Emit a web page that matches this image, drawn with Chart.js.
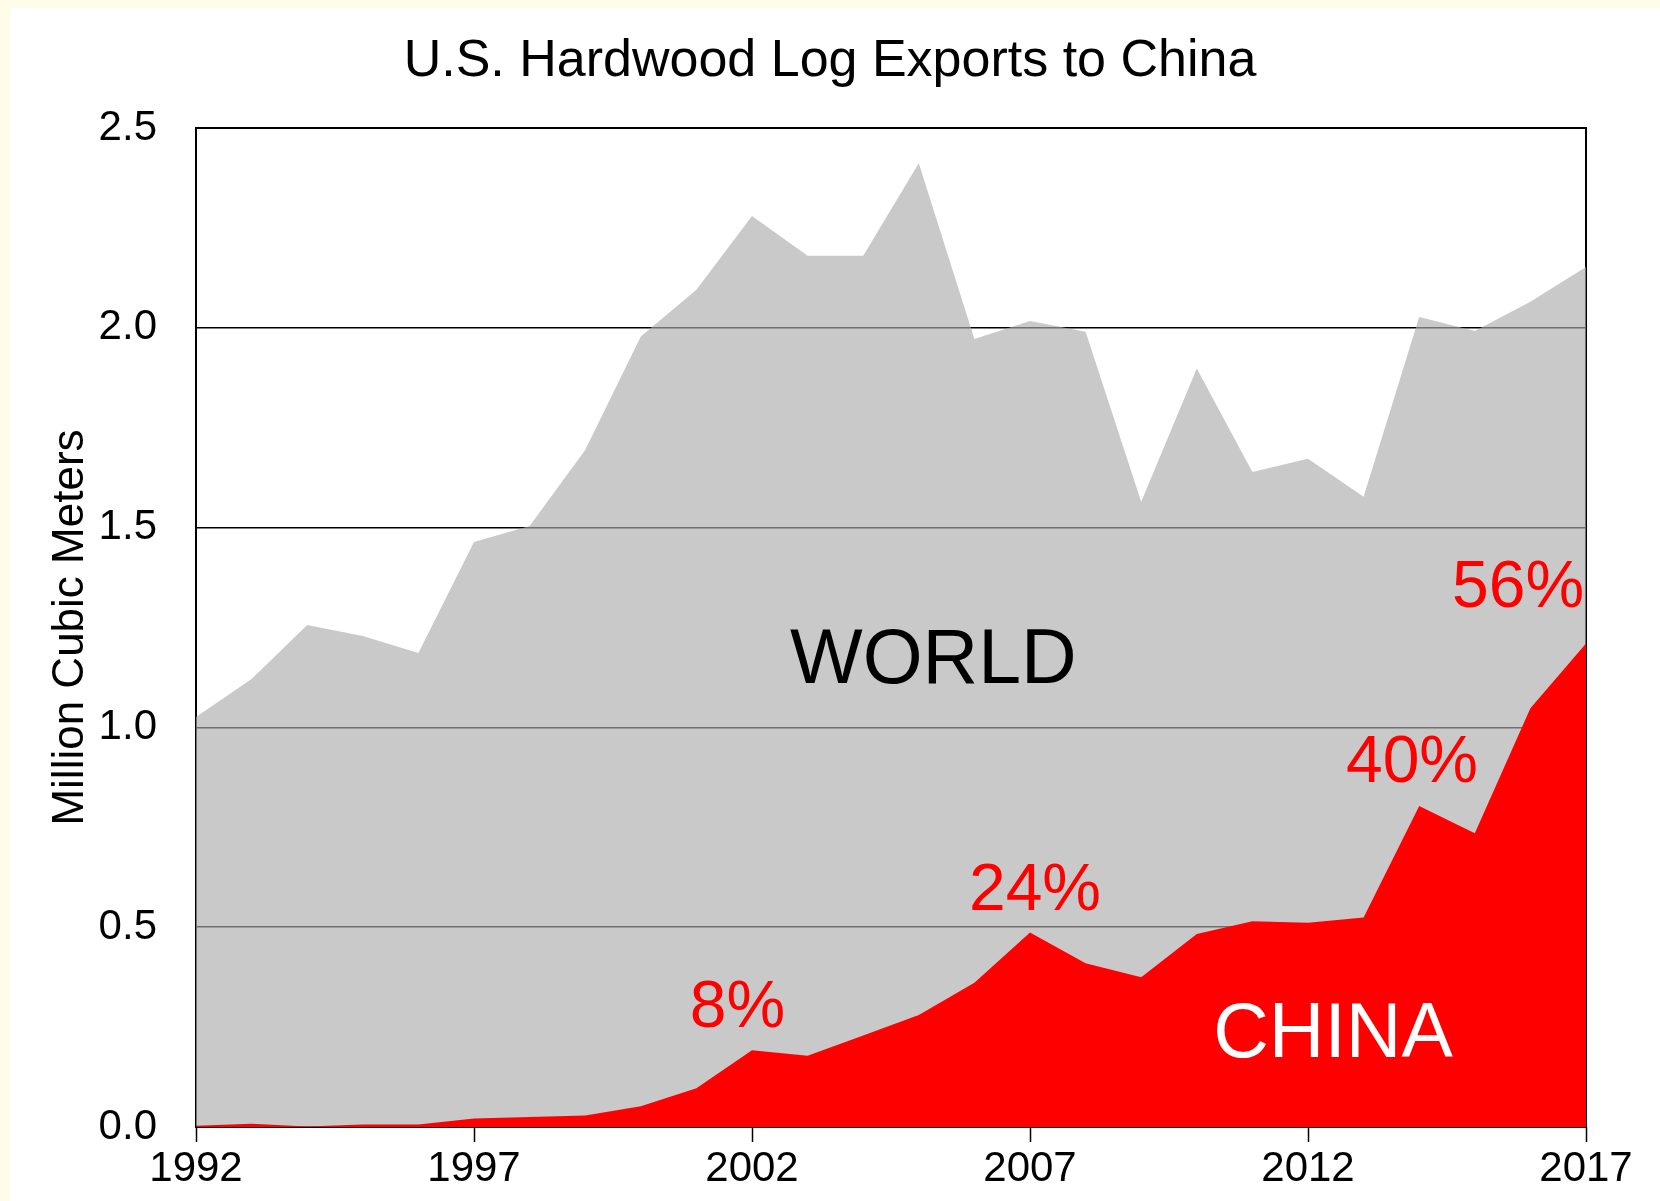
<!DOCTYPE html>
<html>
<head>
<meta charset="utf-8">
<script src="https://cdn.jsdelivr.net/npm/chart.js@4.4.0/dist/chart.umd.min.js"></script>
<style>
  html, body { margin: 0; padding: 0; background: #fff; }
  canvas { display: block; }
</style>
</head>
<body>
<canvas id="chart" width="1660" height="1201" style="width:1660px;height:1201px"></canvas>
<script>
// data ////////////////////////////////////////////////////////////
const years = [1992, 1993, 1994, 1995, 1996, 1997, 1998, 1999, 2000, 2001, 2002, 2003, 2004,
               2005, 2006, 2007, 2008, 2009, 2010, 2011, 2012, 2013, 2014, 2015, 2016, 2017];
const world = [1.026, 1.121, 1.256, 1.229, 1.186, 1.464, 1.504, 1.694, 1.978, 2.095, 2.280, 2.180, 2.180,
               2.412, 1.972, 2.017, 1.990, 1.565, 1.898, 1.639, 1.672, 1.577, 2.027, 1.992, 2.065, 2.152];
const china = [0.003, 0.008, 0.001, 0.006, 0.006, 0.021, 0.025, 0.029, 0.052, 0.097, 0.192, 0.178, 0.229,
               0.280, 0.361, 0.487, 0.410, 0.375, 0.483, 0.515, 0.511, 0.524, 0.803, 0.735, 1.048, 1.210];
const xTicks = [1992, 1997, 2002, 2007, 2012, 2017];
const yTicks = [0, 0.5, 1.0, 1.5, 2.0, 2.5];
const shares = ['8%', '24%', '40%', '56%'];

const FONT = "'Liberation Sans', Arial, sans-serif";

// text placed in data space (year, value at baseline)
const notes = [
    { text: 'WORLD', x: 2005.26, y: 1.112, size: 77, color: '#000' },
    { text: 'CHINA', x: 2012.45, y: 0.174, size: 77, color: '#fff' },
    { text: shares[0], x: 2001.74, y: 0.251, size: 66, color: '#ff0000' },
    { text: shares[1], x: 2007.09, y: 0.543, size: 66, color: '#ff0000' },
    { text: shares[2], x: 2013.87, y: 0.863, size: 66, color: '#ff0000' },
    { text: shares[3], x: 2015.78, y: 1.301, size: 66, color: '#ff0000' }
];

// page background: white with a pale strip on top / left
const background = {
    id: 'background',
    beforeDraw(chart) {
        const ctx = chart.ctx;
        ctx.save();
        ctx.fillStyle = '#fff';
        ctx.fillRect(0, 0, chart.width, chart.height);
        ctx.fillStyle = '#fffde9';
        ctx.fillRect(0, 0, chart.width, 8);
        ctx.fillRect(0, 0, 10, chart.height);
        ctx.restore();
    }
};

// plot frame, under the areas so the grey shades it
const frame = {
    id: 'frame',
    beforeDatasetsDraw(chart) {
        const { ctx, chartArea: a } = chart;
        ctx.save();
        ctx.strokeStyle = '#000';
        ctx.lineWidth = 2;
        ctx.strokeRect(a.left, a.top, a.right - a.left, a.bottom - a.top);
        ctx.restore();
    }
};

const labels = {
    id: 'labels',
    afterDatasetsDraw(chart) {
        const ctx = chart.ctx;
        const sx = chart.scales.x, sy = chart.scales.y;
        ctx.save();
        ctx.textAlign = 'center';
        ctx.textBaseline = 'alphabetic';
        notes.forEach(n => {
            ctx.font = n.size + 'px ' + FONT;
            ctx.fillStyle = n.color;
            ctx.fillText(n.text, sx.getPixelForValue(n.x), sy.getPixelForValue(n.y));
        });
        ctx.restore();
    }
};

new Chart(document.getElementById('chart'), {
    type: 'line',
    data: {
        datasets: [{
            label: 'China',
            data: years.map((y, i) => ({ x: y, y: china[i] })),
            backgroundColor: '#ff0000',
            borderWidth: 0,
            pointRadius: 0,
            tension: 0,
            fill: 'origin',
            order: 0
        }, {
            label: 'World',
            data: years.map((y, i) => ({ x: y, y: world[i] })),
            backgroundColor: 'rgba(172,172,172,0.65)',  // lets grid lines show through darker
            borderWidth: 0,
            pointRadius: 0,
            tension: 0,
            fill: 'origin',
            order: 1
        }]
    },
    options: {
        responsive: false,
        animation: false,
        layout: { padding: 0 },
        plugins: {
            legend: { display: false },
            tooltip: { enabled: false },
            title: {
                display: true,
                text: 'U.S. Hardwood Log Exports to China',
                color: '#000',
                font: { family: FONT, size: 52, weight: 'normal' },
                padding: { top: 30, bottom: 35.6 }
            }
        },
        scales: {
            x: {
                type: 'linear',
                min: 1992,
                max: 2017,
                afterBuildTicks: s => { s.ticks = xTicks.map(v => ({ value: v })); },
                afterFit: s => { s.height = 74; },
                border: { display: false },
                grid: {
                    drawOnChartArea: false,
                    drawTicks: true,
                    tickLength: 15,
                    tickColor: '#000',
                    tickWidth: 1.5
                },
                ticks: {
                    color: '#000',
                    padding: 2,
                    maxRotation: 0,
                    autoSkip: false,
                    font: { family: FONT, size: 42 },
                    callback: v => String(v)
                }
            },
            y: {
                min: 0,
                max: 2.5,
                afterBuildTicks: s => { s.ticks = yTicks.map(v => ({ value: v })); },
                afterFit: s => { s.width = 196; },
                border: { display: false },
                grid: {
                    color: '#000',
                    lineWidth: 1.5,
                    drawTicks: false
                },
                ticks: {
                    color: '#000',
                    padding: 39,
                    font: { family: FONT, size: 42 },
                    callback: v => v.toFixed(1)
                },
                title: {
                    display: true,
                    text: 'Million Cubic Meters',
                    color: '#000',
                    font: { family: FONT, size: 44 },
                    padding: { top: 44, bottom: 0 }
                }
            },
            // empty right axis, only to reserve the margin on the right
            yr: {
                position: 'right',
                afterFit: s => { s.width = 74; },
                border: { display: false },
                grid: { display: false },
                ticks: { display: false }
            }
        }
    },
    plugins: [background, frame, labels]
});
</script>
</body>
</html>
